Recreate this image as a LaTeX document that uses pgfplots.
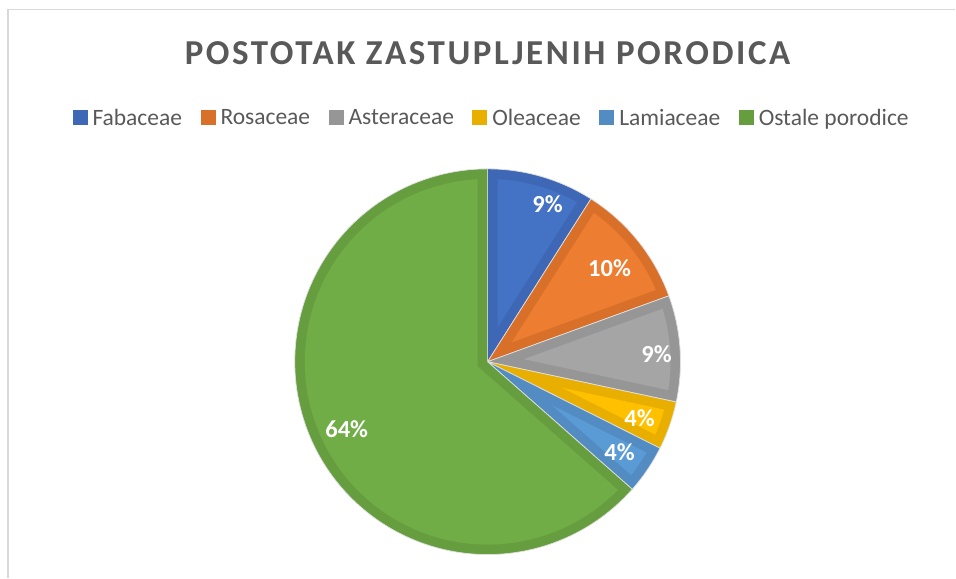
\documentclass[border=0pt]{standalone}
\usepackage{fontspec}
\setmainfont{Carlito}
\usepackage{pgfplots}
\usepackage{pgfplotstable}
\pgfplotsset{compat=1.18}
\definecolor{txtgray}{HTML}{595959}
\definecolor{framegray}{HTML}{D9D9D9}
\definecolor{fabD}{HTML}{3E68B6}\definecolor{fabL}{HTML}{4472C4}
\definecolor{rosD}{HTML}{D9702A}\definecolor{rosL}{HTML}{ED7D31}
\definecolor{astD}{HTML}{969696}\definecolor{astL}{HTML}{A5A5A5}
\definecolor{oleD}{HTML}{E8AF00}\definecolor{oleL}{HTML}{FFC000}
\definecolor{lamD}{HTML}{528CC2}\definecolor{lamL}{HTML}{5B9BD5}
\definecolor{ostD}{HTML}{659D3F}\definecolor{ostL}{HTML}{70AD47}
% percent shares, in Excel order (clockwise from 12 o'clock)
\pgfplotstableread{
name share
Fabaceae 9.0
Rosaceae 10.45
Asteraceae 8.9
Oleaceae 4.05
Lamiaceae 4.1
Ostale 63.5
}\shares
\def\R{193}
\def\W{10}
\newcommand\slice[4]{% #1 cum start, #2 cum end, #3 dark, #4 light
  \pgfmathsetmacro\tA{90-3.6*#2}%
  \pgfmathsetmacro\tB{90-3.6*#1}%
  \pgfmathsetmacro\half{(\tB-\tA)/2}%
  \pgfmathsetmacro\bis{(\tA+\tB)/2}%
  \pgfmathsetmacro\dd{\W/sin(\half)}%
  \pgfmathsetmacro\px{\dd*cos(\bis)}%
  \pgfmathsetmacro\py{\dd*sin(\bis)}%
  \pgfmathsetmacro\del{asin(\W/(\R-\W))}%
  \pgfmathsetmacro\iA{\tA+\del}%
  \pgfmathsetmacro\iB{\tB-\del}%
  \pgfmathsetmacro\Ri{\R-\W}%
  \edef\temp{\noexpand\addplot[fill=#3, draw=white!88!black, line width=0.7pt, domain=\tA:\tB, samples=120] ({\R*cos(x)},{\R*sin(x)}) -- (0,0) -- cycle;}%
  \temp
  \edef\temp{\noexpand\addplot[forget plot, fill=#4, draw=none, domain=\iA:\iB, samples=120] ({\Ri*cos(x)},{\Ri*sin(x)}) -- (\px,\py) -- cycle;}%
  \temp
}
\begin{document}
\begin{tikzpicture}
\begin{axis}[
  x=1pt, y=1pt,
  xmin=-488, xmax=468, ymin=-216, ymax=362,
  hide axis, clip=false,
  legend columns=6,
  legend image code/.code={\fill[#1,draw=none] (0pt,-7.5pt) rectangle (15pt,7.5pt);},
  legend style={at={(0.5136,0.7958)}, anchor=center, draw=none, fill=none,
    font=\fontsize{23.5}{28}\selectfont, text=txtgray,
    nodes={inner sep=0pt},
    /tikz/every odd column/.append style={column sep=5pt},
    /tikz/every even column/.append style={column sep=18.5pt}},
]
\path (axis cs:-488,-216) rectangle (axis cs:468,362);
\draw[framegray, line width=1.5pt] (axis cs:-480,-216) -- (axis cs:-480,352.5) -- (axis cs:468,352.5);
% cumulative shares from table
\pgfplotstablegetelem{0}{share}\of\shares \pgfmathsetmacro\cA{\pgfplotsretval}
\pgfplotstablegetelem{1}{share}\of\shares \pgfmathsetmacro\cB{\cA+\pgfplotsretval}
\pgfplotstablegetelem{2}{share}\of\shares \pgfmathsetmacro\cC{\cB+\pgfplotsretval}
\pgfplotstablegetelem{3}{share}\of\shares \pgfmathsetmacro\cD{\cC+\pgfplotsretval}
\pgfplotstablegetelem{4}{share}\of\shares \pgfmathsetmacro\cE{\cD+\pgfplotsretval}
\pgfplotstablegetelem{5}{share}\of\shares \pgfmathsetmacro\cF{\cE+\pgfplotsretval}
\slice{0}{\cA}{fabD}{fabL}\addlegendentry{Fabaceae}
\slice{\cA}{\cB}{rosD}{rosL}\addlegendentry{Rosaceae}
\slice{\cB}{\cC}{astD}{astL}\addlegendentry{Asteraceae}
\slice{\cC}{\cD}{oleD}{oleL}\addlegendentry{Oleaceae}
\slice{\cD}{\cE}{lamD}{lamL}\addlegendentry{Lamiaceae}
\slice{\cE}{\cF}{ostD}{ostL}\addlegendentry{Ostale porodice}
\node[anchor=base, text=txtgray, font=\fontsize{35}{42}\selectfont\bfseries\addfontfeature{LetterSpace=7.4}] at (axis cs:0,297) {POSTOTAK ZASTUPLJENIH PORODICA};
\begin{scope}[every node/.style={text=white, font=\fontsize{24.5}{28}\selectfont\bfseries}]
\node at (axis cs:60,158) {9\%};
\node at (axis cs:122,94) {10\%};
\node at (axis cs:169,8) {9\%};
\node at (axis cs:152,-56) {4\%};
\node at (axis cs:132,-91) {4\%};
\node at (axis cs:-141,-68) {64\%};
\end{scope}
\end{axis}
\end{tikzpicture}
\end{document}
